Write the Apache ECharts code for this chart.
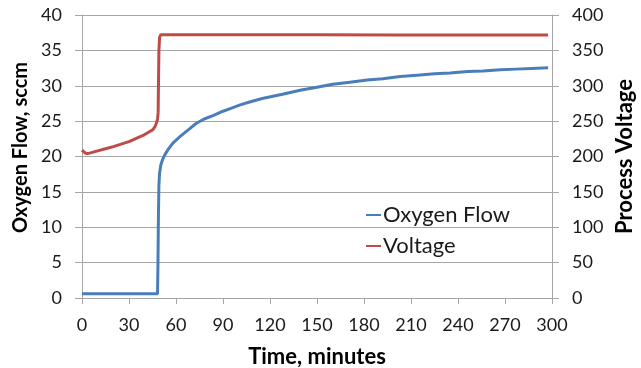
<!DOCTYPE html>
<html>
<head>
<meta charset="utf-8">
<script src="https://cdn.jsdelivr.net/npm/echarts@6/dist/echarts.min.js"></script>
<style>
html,body{margin:0;padding:0;background:#fff;}
#chart{width:641px;height:368px;}
</style>
</head>
<body>
<div id="chart"></div>
<script>
// Oxygen flow (sccm) vs time (minutes)
var flowTime = [0, 10, 20, 30, 40, 48.2, 48.5, 48.8, 49.1, 49.5, 50.3, 51.5, 53, 55, 58, 62.5, 68, 73, 78, 84, 90, 95, 101, 107, 115, 128, 140, 150, 160, 171, 182, 192, 203, 214, 225, 235, 246, 256, 267, 277, 287, 297.5];
var flowValues = [0.6, 0.6, 0.6, 0.6, 0.6, 0.6, 5, 12, 16, 17.6, 18.8, 19.6, 20.3, 21.0, 21.9, 22.8, 23.8, 24.7, 25.3, 25.8, 26.4, 26.8, 27.3, 27.7, 28.2, 28.8, 29.4, 29.8, 30.2, 30.5, 30.8, 31.0, 31.3, 31.5, 31.7, 31.8, 32.0, 32.1, 32.25, 32.35, 32.45, 32.55];
// Process voltage vs time (minutes)
var voltTime = [0, 2, 3.5, 6, 10, 15, 20, 25, 30, 35, 40, 43, 45.3, 46.5, 47.5, 48.2, 48.6, 48.8, 49.1, 49.5, 50.2, 60, 100, 150, 200, 250, 297.5];
var voltValues = [209, 205, 204, 205.5, 208, 211, 214, 217.5, 221, 226, 231, 235, 238, 242, 247, 253, 262, 300, 350, 368, 372, 372, 372, 372, 371.8, 371.8, 371.8];

var xTitle = 'Time, minutes';
var yLeftTitle = 'Oxygen Flow, sccm';
var yRightTitle = 'Process Voltage';
var seriesNames = ['Oxygen Flow', 'Voltage'];

function pairs(xs, ys) {
  var out = [];
  for (var i = 0; i < xs.length; i++) out.push([xs[i], ys[i]]);
  return out;
}

var FONT = 'Lato';
var chart = echarts.init(document.getElementById('chart'), null, {renderer: 'canvas'});
var gridColor = '#a6a6a6';
var labelStyle = {fontFamily: FONT, fontSize: 18, color: '#1a1a1a'};

chart.setOption({
  animation: false,
  backgroundColor: '#ffffff',
  grid: {left: 82, right: 89, top: 15, bottom: 70, containLabel: false, outerBoundsMode: 'none'},
  legend: {
    orient: 'vertical',
    left: 361,
    top: 199,
    itemWidth: 15,
    itemHeight: 2,
    itemGap: 9,
    icon: 'rect',
    textStyle: {fontFamily: FONT, fontSize: 22, color: '#1a1a1a', padding: [0, 0, 0, -3]},
    data: [
      {name: seriesNames[0], itemStyle: {color: '#4a7ebb'}},
      {name: seriesNames[1], itemStyle: {color: '#be4b48'}}
    ]
  },
  xAxis: {
    type: 'value',
    min: 0, max: 300, interval: 30,
    name: xTitle,
    nameLocation: 'middle',
    nameGap: 48,
    nameTextStyle: {fontFamily: FONT, fontSize: 22, fontWeight: 'bold', color: '#000'},
    axisLine: {show: true, lineStyle: {color: gridColor, width: 1}},
    axisTick: {show: true, inside: false, length: 6, lineStyle: {color: gridColor}},
    axisLabel: Object.assign({margin: 18}, labelStyle),
    splitLine: {show: false}
  },
  yAxis: [{
    type: 'value',
    min: 0, max: 40, interval: 5,
    position: 'left',
    name: yLeftTitle,
    nameLocation: 'middle',
    nameGap: 45,
    nameRotate: 90,
    nameTextStyle: {fontFamily: FONT, fontSize: 20, fontWeight: 'bold', color: '#000', padding: [0, 0, 0, 18]},
    axisLine: {show: true, lineStyle: {color: gridColor, width: 1}},
    axisTick: {show: true, inside: false, length: 7, lineStyle: {color: gridColor}},
    axisLabel: Object.assign({margin: 20}, labelStyle),
    splitLine: {show: true, lineStyle: {color: gridColor, width: 1}}
  }, {
    type: 'value',
    min: 0, max: 400, interval: 50,
    position: 'right',
    name: yRightTitle,
    nameLocation: 'middle',
    nameGap: 56,
    nameRotate: 90,
    nameTextStyle: {fontFamily: FONT, fontSize: 22, fontWeight: 'bold', color: '#000'},
    axisLine: {show: true, lineStyle: {color: gridColor, width: 1}},
    axisTick: {show: true, inside: false, length: 7, lineStyle: {color: gridColor}},
    axisLabel: Object.assign({margin: 20}, labelStyle),
    splitLine: {show: false}
  }],
  series: [{
    name: seriesNames[0],
    type: 'line',
    yAxisIndex: 0,
    showSymbol: false,
    symbol: 'none',
    smooth: false,
    color: '#4a7ebb',
    lineStyle: {color: '#4a7ebb', width: 3},
    data: pairs(flowTime, flowValues)
  }, {
    name: seriesNames[1],
    type: 'line',
    yAxisIndex: 1,
    showSymbol: false,
    symbol: 'none',
    smooth: false,
    color: '#be4b48',
    lineStyle: {color: '#be4b48', width: 3},
    data: pairs(voltTime, voltValues)
  }]
});
</script>
</body>
</html>
